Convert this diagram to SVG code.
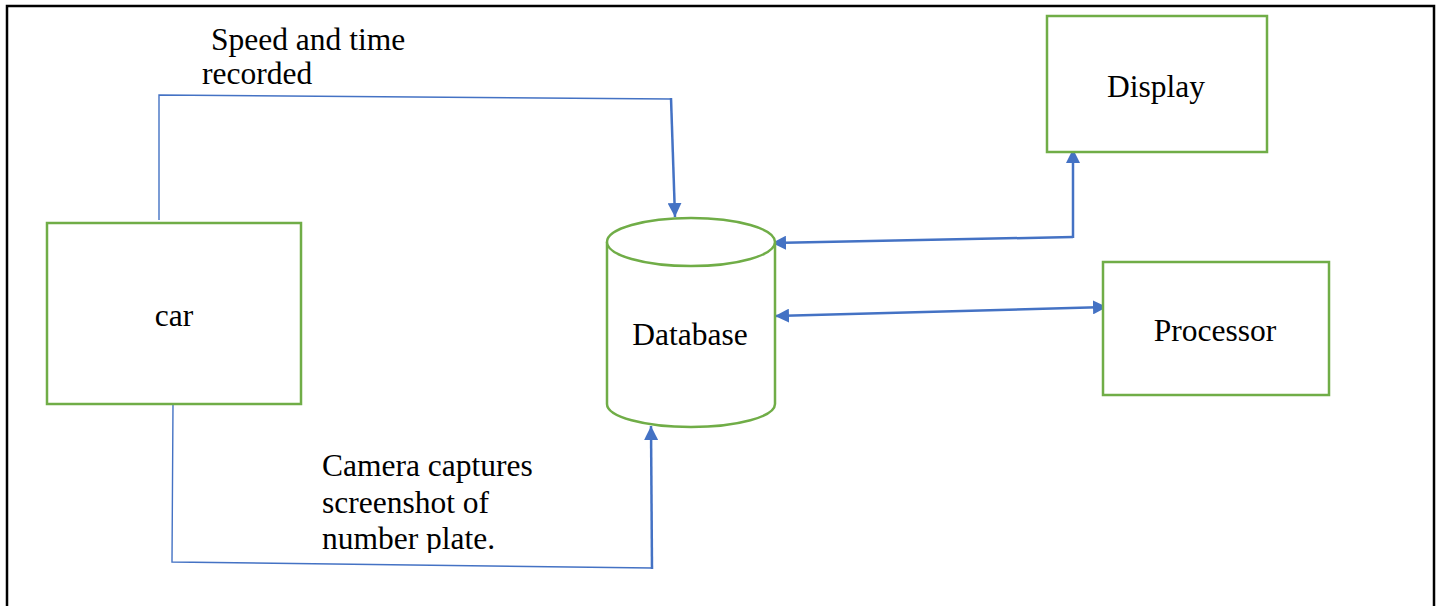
<svg xmlns="http://www.w3.org/2000/svg" width="1440" height="606" viewBox="0 0 1440 606">
  <style>
    .box { fill: #ffffff; stroke: #70AD47; stroke-width: 2.5; }
    .lbl { font-family: "Liberation Serif", "Times New Roman", serif; font-size: 31.5px; fill: #000000; }
    .thin { fill: none; stroke: #4472C4; stroke-width: 1.4; }
    .flow { fill: none; stroke: #4472C4; stroke-width: 2.5; }
  </style>
  <defs>
    <marker id="arrow" viewBox="0 0 14 14" refX="14" refY="7" markerWidth="14" markerHeight="14" markerUnits="userSpaceOnUse" orient="auto-start-reverse">
      <path d="M0,0 L14,7 L0,14 z" fill="#4472C4"/>
    </marker>
    <clipPath id="clipTop"><rect x="190" y="20" width="260" height="65"/></clipPath>
    <clipPath id="clipBottom"><rect x="310" y="445" width="260" height="108"/></clipPath>
  </defs>

  <rect x="0" y="0" width="1440" height="606" fill="#ffffff"/>

  <!-- outer frame -->
  <rect x="7" y="6" width="1427" height="620" fill="none" stroke="#000000" stroke-width="2.5"/>

  <!-- connectors -->
  <g id="connectors">
    <polyline class="thin" points="159,220 159,95 671,99"/>
    <path class="flow" d="M671,98 L675,217" marker-end="url(#arrow)"/>

    <polyline class="thin" points="173,404 172,562 652,568"/>
    <path class="flow" d="M652,569 L651,426" marker-end="url(#arrow)"/>

    <path class="flow" d="M1073,237 L772,243" marker-end="url(#arrow)"/>
    <path class="flow" d="M1073,238 L1073,149" marker-end="url(#arrow)"/>

    <path class="flow" d="M775,316 L1107,307" marker-start="url(#arrow)" marker-end="url(#arrow)"/>

    <g clip-path="url(#clipTop)">
      <text class="lbl" x="211" y="50">Speed and time</text>
      <text class="lbl" x="202" y="84">recorded</text>
    </g>
    <g clip-path="url(#clipBottom)">
      <text class="lbl" x="322" y="476">Camera captures</text>
      <text class="lbl" x="322" y="513">screenshot of</text>
      <text class="lbl" x="322" y="549">number plate.</text>
    </g>
  </g>

  <g id="car">
    <rect class="box" x="47" y="223" width="254" height="181"/>
    <text class="lbl" x="174" y="326" text-anchor="middle">car</text>
  </g>

  <g id="database">
    <path class="box" d="M607,242 L607,404 A84,23 0 0 0 775,404 L775,242"/>
    <ellipse class="box" cx="691" cy="242" rx="84" ry="24"/>
    <text class="lbl" x="690" y="345" text-anchor="middle">Database</text>
  </g>

  <g id="display">
    <rect class="box" x="1047" y="16" width="220" height="136"/>
    <text class="lbl" x="1156" y="97" text-anchor="middle">Display</text>
  </g>

  <g id="processor">
    <rect class="box" x="1103" y="262" width="226" height="133"/>
    <text class="lbl" x="1215" y="341" text-anchor="middle">Processor</text>
  </g>
</svg>
